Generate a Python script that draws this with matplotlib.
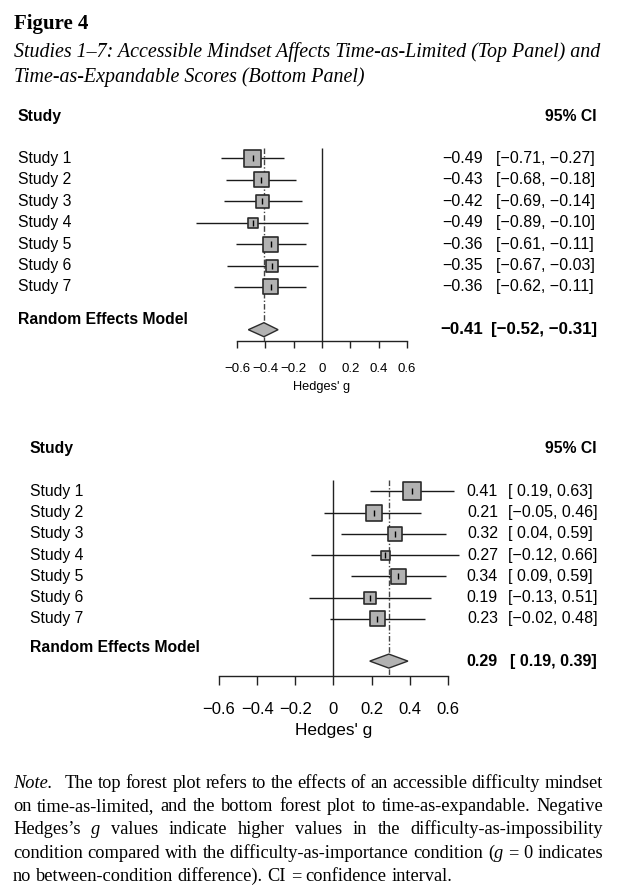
import matplotlib
matplotlib.use("Agg")
import matplotlib.pyplot as plt

W, H, DPI = 617, 894, 100

plt.rcParams['font.family'] = ['Liberation Sans', 'DejaVu Sans']

studies = ["Study 1", "Study 2", "Study 3", "Study 4", "Study 5", "Study 6", "Study 7"]

# top panel: time-as-limited
lim_est = [-0.49, -0.43, -0.42, -0.49, -0.36, -0.35, -0.36]
lim_lo = [-0.71, -0.68, -0.69, -0.89, -0.61, -0.67, -0.62]
lim_hi = [-0.27, -0.18, -0.14, -0.10, -0.11, -0.03, -0.11]
lim_box = [17, 15, 13, 10, 15, 12, 15]   # box side (study weight), px
lim_re = [-0.41, -0.52, -0.31]           # estimate, lower, upper

# bottom panel: time-as-expandable
exp_est = [0.41, 0.21, 0.32, 0.27, 0.34, 0.19, 0.23]
exp_lo = [0.19, -0.05, 0.04, -0.12, 0.09, -0.13, -0.02]
exp_hi = [0.63, 0.46, 0.59, 0.66, 0.59, 0.51, 0.48]
exp_box = [18, 16, 14, 9, 15, 12, 15]
exp_re = [0.29, 0.19, 0.39]

xticks = [-0.6, -0.4, -0.2, 0, 0.2, 0.4, 0.6]
xtick_labels = ["\u22120.6", "\u22120.4", "\u22120.2", "0", "0.2", "0.4", "0.6"]

BOX_FC = '#b2b2b2'
EDGE = '#2b2b2b'


def fmt(v, pad):
    s = f"{abs(v):.2f}"
    if v < 0:
        return "\u2212" + s
    return (" " + s) if pad else s


def col(vals):
    pad = any(v < 0 for v in vals)
    return [fmt(v, pad) for v in vals]


def draw_panel(fig, g, est, lo, hi, box, re):
    """g holds the pixel layout of one forest plot."""
    ax = fig.add_axes([0, 1 - g['bottom'] / H, 1, (g['bottom'] - g['top']) / H])
    ppu = (g['x_hi'] - g['x_lo']) / 1.2
    x0 = g['x_lo'] + 0.6 * ppu

    def xd(px):
        return (px - x0) / ppu

    def yd(py):
        return 1 + (py - g['row1']) / g['step']

    ax.set_xlim(xd(0), xd(W))
    ax.set_ylim(yd(g['bottom']), yd(g['top']))

    rows = list(range(1, len(est) + 1))
    y_re = 9
    y_axis = yd(g['axis'])

    ax.vlines(0, yd(g['vtop']), y_axis, color='#222222', lw=1.0, zorder=1)
    ax.vlines(re[0], yd(g['vtop']), y_axis, color='#444444', lw=1.0,
              linestyles=(0, (4, 1.5, 1, 1.5)), zorder=1)

    ax.hlines(rows, lo, hi, color='#1a1a1a', lw=1.0, zorder=2)
    ax.scatter(est, rows, s=[(b * 72 / DPI) ** 2 for b in box], marker='s',
               facecolor=BOX_FC, edgecolor=EDGE, linewidth=1.2, zorder=3)
    ax.scatter(est, rows, s=(6 * 72 / DPI) ** 2, marker='|', color='black',
               linewidth=1.0, zorder=4)

    hh = 7 / g['step']
    ax.fill([re[1], re[0], re[2], re[0]], [y_re, y_re - hh, y_re, y_re + hh],
            facecolor=BOX_FC, edgecolor=EDGE, lw=1.0, zorder=3)

    for side in ['top', 'left', 'right']:
        ax.spines[side].set_visible(False)
    ax.spines['bottom'].set_position(('data', y_axis))
    ax.spines['bottom'].set_bounds(-0.6, 0.6)
    ax.spines['bottom'].set_linewidth(1.0)
    ax.spines['bottom'].set_color('#222222')
    ax.set_xticks(xticks, xtick_labels)
    ax.set_yticks([])
    ax.tick_params(axis='x', direction='out', length=g['ticklen'] * 72 / DPI,
                   width=1.0, color='#222222', labelsize=g['ticksize'],
                   pad=g['tickpad'])
    ax.text(0, yd(g['xlab']), "Hedges' g", ha='center', va='center',
            fontsize=g['xlabsize'])

    fs = 11.3
    lx = xd(g['label_x'])
    ax.text(lx, yd(g['head']), "Study", ha='left', va='center', fontsize=fs,
            fontweight='bold')
    ax.text(xd(597), yd(g['head']), "95% CI", ha='right', va='center', fontsize=fs,
            fontweight='bold')
    for r, name in zip(rows, studies):
        ax.text(lx, r, name, ha='left', va='center', fontsize=fs)
    ax.text(lx, yd(g['re_label']), "Random Effects Model", ha='left', va='center',
            fontsize=fs, fontweight='bold')

    est_s = col(est + [re[0]])
    lo_s = col(lo + [re[1]])
    hi_s = col(hi + [re[2]])
    for i, r in enumerate(rows):
        ax.text(xd(g['est_right']), r, est_s[i], ha='right', va='center', fontsize=11.5)
        ax.text(xd(g['ci_left']), r, f"[{lo_s[i]}, {hi_s[i]}]", ha='left',
                va='center', fontsize=11.5)
    ax.text(xd(g['est_right']), y_re, est_s[-1], ha='right', va='center',
            fontsize=g['re_size'], fontweight='bold')
    ax.text(xd(597), y_re, f"[{lo_s[-1]}, {hi_s[-1]}]", ha='right', va='center',
            fontsize=g['re_size'], fontweight='bold')
    return ax


top_geom = dict(top=100, bottom=400, x_lo=237, x_hi=407, row1=158.5, step=21.4,
                axis=341, vtop=148, ticklen=7, ticksize=9.5, tickpad=10.5,
                xlab=387, xlabsize=9.2, label_x=18, head=117, re_label=320,
                est_right=483, ci_left=496, re_size=12.2)
bot_geom = dict(top=430, bottom=750, x_lo=219, x_hi=448, row1=491.5, step=21.2,
                axis=676, vtop=480, ticklen=9, ticksize=12, tickpad=12,
                xlab=731, xlabsize=12.4, label_x=30, head=449, re_label=647,
                est_right=498, ci_left=508, re_size=11.6)

fig = plt.figure(figsize=(W / DPI, H / DPI), dpi=DPI)
renderer = fig.canvas.get_renderer()

draw_panel(fig, top_geom, lim_est, lim_lo, lim_hi, lim_box, lim_re)
draw_panel(fig, bot_geom, exp_est, exp_lo, exp_hi, exp_box, exp_re)

SERIF = ['Liberation Serif', 'DejaVu Serif']


def text_width(txt, size, style='normal', weight='normal'):
    t = fig.text(0, 0, txt, fontsize=size, family=SERIF, fontstyle=style,
                 fontweight=weight)
    w = t.get_window_extent(renderer).width
    t.remove()
    return w


def put(px, py, txt, size, style='normal', weight='normal'):
    fig.text(px / W, 1 - py / H, txt, fontsize=size, family=SERIF,
             fontstyle=style, fontweight=weight, ha='left', va='baseline')


# heading
fig_size = 12 * 74 / text_width("Figure 4", 12, weight='bold')
put(14, 29, "Figure 4", fig_size, weight='bold')
title1 = "Studies 1\u20137: Accessible Mindset Affects Time-as-Limited (Top Panel) and"
title2 = "Time-as-Expandable Scores (Bottom Panel)"
t_size = 12 * 589 / text_width(title1, 12, style='italic')
put(14, 57, title1, t_size, style='italic')
put(14, 82, title2, t_size, style='italic')

# note, justified word by word
I, R = 'italic', 'normal'
note_lines = [
    [[("Note.", I)], [("The", R)], [("top", R)], [("forest", R)], [("plot", R)],
     [("refers", R)], [("to", R)], [("the", R)], [("effects", R)], [("of", R)],
     [("an", R)], [("accessible", R)], [("difficulty", R)], [("mindset", R)]],
    [[(w, R)] for w in "on time-as-limited, and the bottom forest plot to "
                       "time-as-expandable. Negative".split()],
    [[("Hedges\u2019s", R)], [("g", I)]] +
    [[(w, R)] for w in "values indicate higher values in the "
                       "difficulty-as-impossibility".split()],
    [[(w, R)] for w in "condition compared with the difficulty-as-importance "
                       "condition".split()] +
    [[("(", R), ("g", I)], [("=", R)], [("0", R)], [("indicates", R)]],
    [[(w, R)] for w in "no between-condition difference). CI = confidence "
                       "interval.".split()],
]
NOTE_L, NOTE_R = 13, 603
note_base = [788, 811, 834, 858, 881]


def line_widths(words, size):
    return [sum(text_width(t, size, style=s) for t, s in w) for w in words]


probe = 12
ws = line_widths(note_lines[0], probe)
natural = sum(ws) + 0.25 * probe * DPI / 72 * (len(ws) - 1) + 8
n_size = probe * (NOTE_R - NOTE_L) / natural

for k, (words, by) in enumerate(zip(note_lines, note_base)):
    ws = line_widths(words, n_size)
    extra = 8 if k == 0 else 0
    if k < len(note_lines) - 1:
        gap = (NOTE_R - NOTE_L - sum(ws) - extra) / (len(ws) - 1)
    else:
        gap = 0.25 * n_size * DPI / 72
    x = NOTE_L
    for i, w in enumerate(words):
        for t, s in w:
            put(x, by, t, n_size, style=s)
            x += text_width(t, n_size, style=s)
        x += gap + (extra if i == 0 else 0)

fig.savefig("out.png", dpi=DPI)
